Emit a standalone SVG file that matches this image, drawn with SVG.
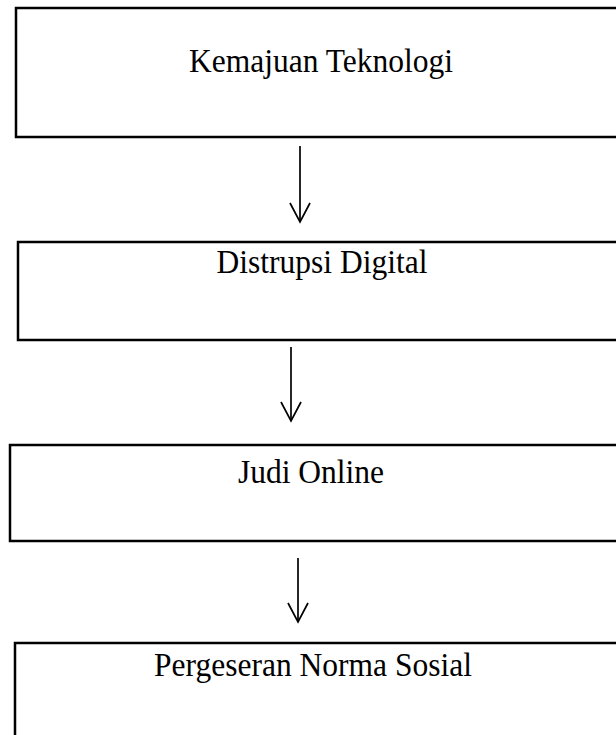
<svg xmlns="http://www.w3.org/2000/svg" width="616" height="735" viewBox="0 0 616 735">
<style>
.box{fill:none;stroke:#000;stroke-width:2.5}
.lbl{font-family:"Liberation Serif","Times New Roman",serif;font-size:31.5px;fill:#000;text-anchor:middle}
.conn line,.conn polyline{fill:none;stroke:#000;stroke-width:1.7}
</style>
<rect width="616" height="735" fill="#fff"/>
<g id="n1"><rect class="box" x="16" y="8" width="620" height="129"/><text class="lbl" transform="translate(321,72) scale(1,1.1)">Kemajuan Teknologi</text></g>
<g id="n2"><rect class="box" x="18" y="242" width="620" height="98"/><text class="lbl" transform="translate(322,273) scale(1,1.1)">Distrupsi Digital</text></g>
<g id="n3"><rect class="box" x="10" y="445" width="620" height="96"/><text class="lbl" transform="translate(311,483) scale(1,1.1)">Judi Online</text></g>
<g id="n4"><rect class="box" x="15" y="643" width="620" height="120"/><text class="lbl" transform="translate(313,676) scale(1,1.1)">Pergeseran Norma Sosial</text></g>
<g id="connectors" class="conn">
<line x1="300" y1="146" x2="300" y2="222"/><polyline points="290,203 300,222 310,203"/>
<line x1="291" y1="347" x2="291" y2="421"/><polyline points="281,402 291,421 301,402"/>
<line x1="298" y1="558" x2="298" y2="622"/><polyline points="288,603 298,622 308,603"/>
</g>
</svg>
